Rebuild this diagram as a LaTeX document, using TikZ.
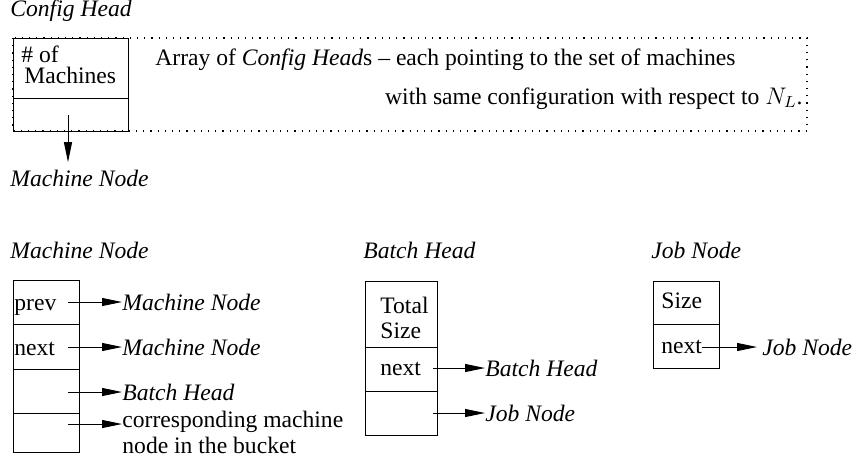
\documentclass[tikz,border=0pt]{standalone}
\usepackage{fontspec}
\setmainfont{Liberation Serif}
\usetikzlibrary{arrows.meta}

\begin{document}
\begin{tikzpicture}[x=0.5pt,y=-0.5pt,
    every node/.style={font=\fontsize{11.8}{14}\selectfont},
    cell/.style={line width=0.5pt},
    dotbox/.style={line width=0.6pt, dash pattern=on 0.6pt off 3pt},
    ptr/.style={-{Triangle[length=10pt,width=4pt]}, line width=0.5pt},
    lbl/.style={anchor=base west, inner sep=0pt},
    tgt/.style={anchor=west, inner sep=0pt}]
    \useasboundingbox (0,0) rectangle (853,463);

    % Config Head
    \node[lbl] (cfgtitle) at (10,16) {\itshape Config Head};
    \draw[dotbox] (13,38) rectangle (807,131);
    \draw[cell] (13,38) rectangle (128,131);
    \draw[cell] (13,98) -- (128,98);
    \node[lbl] (nof) at (21,62) {\# of};
    \node[lbl] (nmach) at (24,83) {Machines};
    \coordinate (cfgp) at (68,115);
    \node[lbl] (cfgmn) at (10,186) {\itshape Machine Node};
    \node[lbl] (arr1) at (155,65) {Array of \textit{Config Head}s -- each pointing to the set of machines};
    \node[anchor=base east, inner sep=0pt] (arr2) at (803,104) {with same configuration with respect to $N_L$.};

    % Machine Node
    \node[lbl] (mntitle) at (10,258) {\itshape Machine Node};
    \draw[cell] (13,280) rectangle (79,452);
    \foreach \y in {324,369,413}
        \draw[cell] (13,\y) -- (79,\y);
    \node[lbl] (mprev) at (14,310) {prev};
    \node[lbl] (mnext) at (14,355) {next};
    \coordinate (mprevp) at (68,302);
    \coordinate (mnextp) at (68,347);
    \coordinate (mbatchp) at (68,392);
    \coordinate (mbuckp) at (68,424);
    \node[tgt] (prevmn) at (122,302) {\itshape Machine Node};
    \node[tgt] (nextmn) at (122,347) {\itshape Machine Node};
    \node[tgt] (mbh) at (122,392) {\itshape Batch Head};
    \node[lbl] (buck1) at (122,427) {corresponding machine};
    \node[lbl] (buck2) at (122,453) {node in the bucket};

    % Batch Head
    \node[lbl] (bhtitle) at (363,258) {\itshape Batch Head};
    \draw[cell] (365,281) rectangle (437,435);
    \draw[cell] (365,347) -- (437,347);
    \draw[cell] (365,391) -- (437,391);
    \node[lbl] (btotal) at (380,313) {Total};
    \node[lbl] (bsize) at (380,338) {Size};
    \node[lbl] (bnext) at (380,375) {next};
    \coordinate (bnextp) at (433,368);
    \coordinate (bjobp) at (433,413);
    \node[tgt] (bhbh) at (485,368) {\itshape Batch Head};
    \node[tgt] (bhjn) at (485,413) {\itshape Job Node};

    % Job Node
    \node[lbl] (jntitle) at (651,258) {\itshape Job Node};
    \draw[cell] (653,281) rectangle (719,368);
    \draw[cell] (653,324) -- (719,324);
    \node[lbl] (jsize) at (661,308) {Size};
    \node[lbl] (jnext) at (661,353) {next};
    \node[tgt] (jnjn) at (762,347) {\itshape Job Node};

    % Arrows
    \draw[ptr, shorten >=3.5pt] (cfgp) -- (cfgp |- cfgmn.north);
    \draw[ptr] (mprevp) -- (prevmn.west);
    \draw[ptr] (mnextp) -- (nextmn.west);
    \draw[ptr] (mbatchp) -- (mbh.west);
    \draw[ptr] (mbuckp) -- (mbuckp -| buck1.west);
    \draw[ptr] (bnextp) -- (bhbh.west);
    \draw[ptr] (bjobp) -- (bhjn.west);
    \draw[ptr, shorten >=2.5pt] (jnext.east |- jnjn.west) -- (jnjn.west);
\end{tikzpicture}
\end{document}
